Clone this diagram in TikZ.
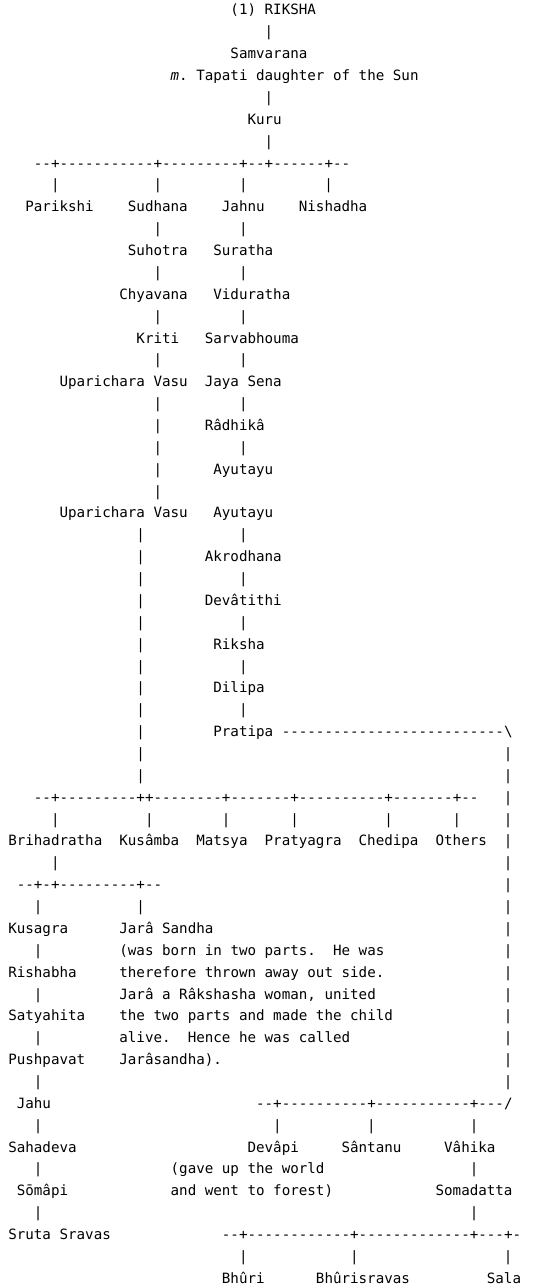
\documentclass[tikz,border=0pt]{standalone}
\usepackage{fontspec}
\setmonofont{DejaVu Sans Mono}
\tikzset{
  lbl/.style={anchor=base west, inner sep=0pt,
    font=\ttfamily\fontsize{10.65}{16.4}\selectfont\frenchspacing},
}
\begin{document}
\begin{tikzpicture}[x=6.41pt, y=-16.4pt]
\useasboundingbox (-6pt,-5.15pt) rectangle (396pt,-970.4pt);
% Riksha to Kuru
\node[lbl] (riksha) at (26,1) {(1) RIKSHA};
\node[lbl] (samvarana) at (26,3) {Samvarana};
\node[lbl] (tapati) at (19,4) {\textit{m}. Tapati daughter of the Sun};
\node[lbl] (kuru) at (28,6) {Kuru};
\node[lbl] (kurusons) at (3,8) {--+-----------+---------+--+------+--};
\node[lbl] (parikshi) at (2,10) {Parikshi};
\node[lbl] (sudhana) at (14,10) {Sudhana};
\node[lbl] (jahnu) at (25,10) {Jahnu};
\node[lbl] (nishadha) at (34,10) {Nishadha};
% two lines of descent
\node[lbl] (suhotra) at (14,12) {Suhotra};
\node[lbl] (suratha) at (24,12) {Suratha};
\node[lbl] (chyavana) at (13,14) {Chyavana};
\node[lbl] (viduratha) at (24,14) {Viduratha};
\node[lbl] (kriti) at (15,16) {Kriti};
\node[lbl] (sarvabhouma) at (23,16) {Sarvabhouma};
\node[lbl] (vasu1) at (6,18) {Uparichara Vasu};
\node[lbl] (jayasena) at (23,18) {Jaya Sena};
\node[lbl] (radhika) at (23,20) {Râdhikâ};
\node[lbl] (ayutayu1) at (24,22) {Ayutayu};
\node[lbl] (vasu2) at (6,24) {Uparichara Vasu};
\node[lbl] (ayutayu2) at (24,24) {Ayutayu};
\node[lbl] (akrodhana) at (23,26) {Akrodhana};
\node[lbl] (devatithi) at (23,28) {Devâtithi};
\node[lbl] (riksha2) at (24,30) {Riksha};
\node[lbl] (dilipa) at (24,32) {Dilipa};
\node[lbl] (pratipa) at (24,34) {Pratipa};
\node[lbl] (pratiparun) at (32,34) {--------------------------\textbackslash};
% sons of Uparichara Vasu
\node[lbl] (vasusons) at (3,37) {--+---------++--------+-------+----------+-------+--};
\node[lbl] (brihadratha) at (0,39) {Brihadratha};
\node[lbl] (kusamba) at (13,39) {Kusâmba};
\node[lbl] (matsya) at (22,39) {Matsya};
\node[lbl] (pratyagra) at (30,39) {Pratyagra};
\node[lbl] (chedipa) at (41,39) {Chedipa};
\node[lbl] (others) at (50,39) {Others};
\node[lbl] (brihsons) at (1,41) {--+-+---------+--};
\node[lbl] (kusagra) at (0,43) {Kusagra};
\node[lbl] (jarasandha) at (13,43) {Jarâ Sandha};
\node[lbl] (note1) at (13,44) {(was born in two parts.~~He was};
\node[lbl] (rishabha) at (0,45) {Rishabha};
\node[lbl] (note2) at (13,45) {therefore thrown away out side.};
\node[lbl] (note3) at (13,46) {Jarâ a Râkshasha woman, united};
\node[lbl] (satyahita) at (0,47) {Satyahita};
\node[lbl] (note4) at (13,47) {the two parts and made the child};
\node[lbl] (note5) at (13,48) {alive.~~Hence he was called};
\node[lbl] (pushpavat) at (0,49) {Pushpavat};
\node[lbl] (note6) at (13,49) {Jarâsandha).};
\node[lbl] (jahu) at (1,51) {Jahu};
\node[lbl] (sahadeva) at (0,53) {Sahadeva};
\node[lbl] (somapi) at (1,55) {Sōmâpi};
\node[lbl] (srutasravas) at (0,57) {Sruta Sravas};
% sons of Pratipa
\node[lbl] (pratipasons) at (29,51) {--+----------+-----------+---/};
\node[lbl] (devapi) at (28,53) {Devâpi};
\node[lbl] (santanu) at (39,53) {Sântanu};
\node[lbl] (vahika) at (51,53) {Vâhika};
\node[lbl] (devapinote1) at (19,54) {(gave up the world};
\node[lbl] (devapinote2) at (19,55) {and went to forest)};
\node[lbl] (somadatta) at (50,55) {Somadatta};
\node[lbl] (somasons) at (25,57) {--+------------+-------------+---+-};
\node[lbl] (bhuri) at (25,59) {Bhûri};
\node[lbl] (bhurisravas) at (36,59) {Bhûrisravas};
\node[lbl] (sala) at (56,59) {Sala};
% the bars
\foreach \c/\r in {30/2,30/5,30/7,5/9,17/9,27/9,37/9,
    17/11,27/11,17/13,27/13,17/15,27/15,17/17,27/17,17/19,27/19,
    17/20,17/21,27/21,17/22,17/23,
    15/25,27/25,15/26,15/27,27/27,15/28,15/29,27/29,15/30,15/31,27/31,
    15/32,15/33,27/33,15/34,15/35,15/36,
    5/38,16/38,25/38,33/38,44/38,52/38,
    5/40,3/42,15/42,3/44,3/46,3/48,3/50,
    3/52,31/52,42/52,54/52,3/54,54/54,3/56,54/56,
    27/58,40/58,58/58}
  \node[lbl] (v\r-\c) at (\c,\r) {|};
\foreach \r in {35,...,50}
  \node[lbl] (w\r) at (58,\r) {|};
\end{tikzpicture}
\end{document}
